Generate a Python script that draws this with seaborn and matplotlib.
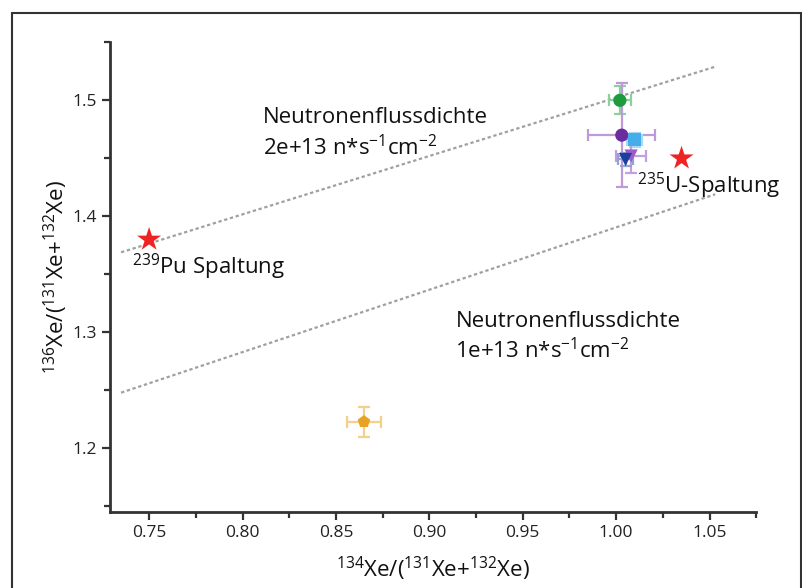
import matplotlib
matplotlib.use("Agg")
import matplotlib.pyplot as plt
from matplotlib.patches import Rectangle
from matplotlib.ticker import MultipleLocator
import seaborn as sns
import pandas as pd

# Messwerte (Proben)
sample_x = [1.002, 1.003, 1.010, 1.008, 1.005, 0.865]
sample_y = [1.500, 1.470, 1.466, 1.452, 1.449, 1.223]
sample_xerr = [0.006, 0.018, 0.004, 0.008, 0.004, 0.009]
sample_yerr = [0.012, 0.045, 0.006, 0.015, 0.006, 0.013]
sample_names = ["A", "B", "C", "D", "E", "F"]

# Spaltungswerte
fission_x = [0.75, 1.035]
fission_y = [1.38, 1.45]
fission_names = [r"$^{239}$Pu Spaltung", r"$^{235}$U-Spaltung"]

# Linien fuer Neutronenflussdichte
line_x = [0.735, 1.053]
line_high = [1.369, 1.529]
line_low = [1.248, 1.419]

colors = ["#1E9B3C", "#6A2C9E", "#45AEEA", "#9B5BC8", "#1C3F9E", "#E8A323"]
markers = ["o", "o", "s", "v", "v", "p"]
err_colors = ["#8DD09D", "#BE9ADB", "#A6DAF6", "#C29FE0", "#8FA3D6", "#F4D08A"]

sns.set_style("ticks")
plt.rcParams["font.family"] = ["Open Sans", "DejaVu Sans"]
plt.rcParams["mathtext.fontset"] = "custom"
plt.rcParams["mathtext.rm"] = "Open Sans"
plt.rcParams["mathtext.it"] = "Open Sans"
plt.rcParams["mathtext.default"] = "regular"

fig = plt.figure(figsize=(8.02, 5.88), dpi=100)
ax = fig.add_axes([0.137, 0.129, 0.806, 0.799])

lines_df = pd.DataFrame({"x": line_x * 2, "y": line_high + line_low,
                         "fluss": ["hoch", "hoch", "tief", "tief"]})
sns.lineplot(data=lines_df, x="x", y="y", units="fluss", estimator=None,
             color="#a0a0a0", lw=1.6, ls=(0, (1.5, 1.2)), ax=ax)

for i in range(len(sample_x)):
    ax.errorbar(sample_x[i], sample_y[i], xerr=sample_xerr[i], yerr=sample_yerr[i],
                fmt="none", ecolor=err_colors[i], elinewidth=1.6, capsize=4, capthick=1.6, zorder=2)

samples_df = pd.DataFrame({"x": sample_x, "y": sample_y, "probe": sample_names})
sns.scatterplot(data=samples_df, x="x", y="y", hue="probe", style="probe",
                palette=dict(zip(sample_names, colors)),
                markers=dict(zip(sample_names, markers)),
                s=90, edgecolor="none", legend=False, ax=ax, zorder=3)

fission_df = pd.DataFrame({"x": fission_x, "y": fission_y})
sns.scatterplot(data=fission_df, x="x", y="y", marker="*", color="#EE2424",
                s=330, edgecolor="none", ax=ax, zorder=3)

ax.set_xlim(0.729, 1.075)
ax.set_ylim(1.145, 1.55)
ax.xaxis.set_minor_locator(MultipleLocator(0.025))
ax.yaxis.set_minor_locator(MultipleLocator(0.05))
ax.set_xticks([0.75, 0.80, 0.85, 0.90, 0.95, 1.00, 1.05])
ax.set_xticklabels(["0.75", "0.80", "0.85", "0.90", "0.95", "1.00", "1.05"])
ax.set_yticks([1.2, 1.3, 1.4, 1.5])
ax.set_yticklabels(["1.2", "1.3", "1.4", "1.5"])
ax.tick_params(which="major", length=6, width=1.6, color="#333333", labelsize=12.5,
               labelcolor="#222222", pad=3)
ax.tick_params(which="minor", length=4, width=1.6, color="#333333")
for side in ["left", "bottom"]:
    ax.spines[side].set_linewidth(2)
    ax.spines[side].set_color("#333333")
sns.despine(ax=ax)

ax.set_xlabel(r"$^{134}$Xe/($^{131}$Xe+$^{132}$Xe)", fontsize=16, labelpad=10, color="#111111")
ax.set_ylabel(r"$^{136}$Xe/($^{131}$Xe+$^{132}$Xe)", fontsize=16, labelpad=2, color="#111111")

ax.text(0.811, 1.485, "Neutronenflussdichte", fontsize=16, color="#111111", va="center")
ax.text(0.811, 1.459, r"2e+13 n*s$^{-1}$cm$^{-2}$", fontsize=16, color="#111111", va="center")
ax.text(0.914, 1.309, "Neutronenflussdichte", fontsize=16, color="#111111", va="center")
ax.text(0.914, 1.284, r"1e+13 n*s$^{-1}$cm$^{-2}$", fontsize=16, color="#111111", va="center")
ax.text(0.741, 1.356, fission_names[0], fontsize=16, color="#111111", va="center")
ax.text(1.011, 1.426, fission_names[1], fontsize=16, color="#111111", va="center")

fig.patches.append(Rectangle((12 / 802, -0.02), 789 / 802, (588 - 13) / 588 + 0.02,
                             transform=fig.transFigure, fill=False, lw=1.5,
                             edgecolor="#333333"))

fig.savefig("out.png", dpi=100)
